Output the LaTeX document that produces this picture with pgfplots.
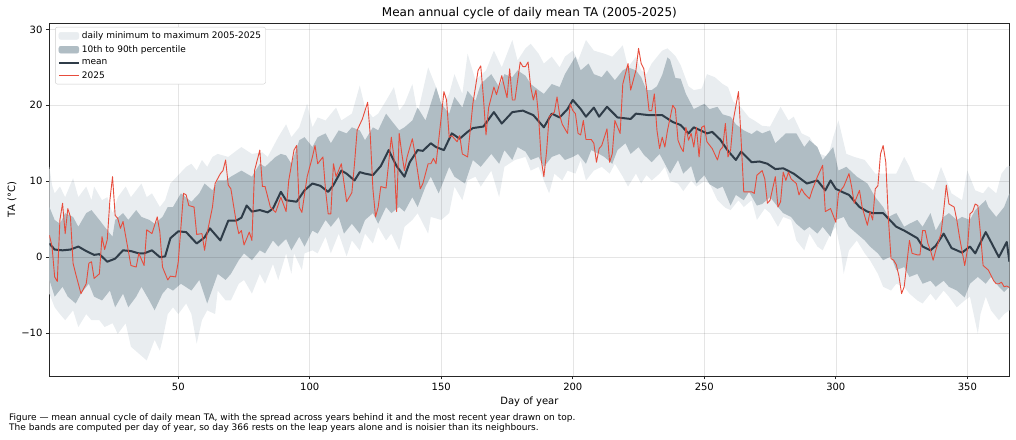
\documentclass[border=0pt]{standalone}
\usepackage{fontspec}
\setmainfont{DejaVu Sans}
\usepackage{pgfplots}
\pgfplotsset{compat=1.18}
\usepgfplotslibrary{fillbetween}
\usetikzlibrary{calc}
\definecolor{bandlight}{RGB}{233,237,240}
\definecolor{banddark}{RGB}{176,189,196}
\definecolor{meanc}{RGB}{47,60,72}
\definecolor{redc}{RGB}{231,76,60}
\begin{document}
\begin{tikzpicture}
\begin{axis}[
  scale only axis, width=960pt, height=352.7pt,
  xmin=1, xmax=366, ymin=-15.65, ymax=30.8,
  xtick={50,100,150,200,250,300,350},
  xticklabels={50,100,150,200,250,300,350},
  ytick={-10,0,10,20,30},
  yticklabels={−10,0,10,20,30},
  tick align=outside, xtick pos=bottom, ytick pos=left,
  major tick length=3.5pt,
  tick style={black!85, line width=0.8pt},
  axis line style={black!85, line width=0.8pt},
  ticklabel style={font=\fontsize{10}{12}\selectfont},
  xlabel={Day of year}, ylabel={TA (°C)},
  xlabel style={at={(rel axis cs:0.5,-0.0737)}, anchor=center, font=\fontsize{10}{12}\selectfont},
  ylabel style={at={(rel axis cs:-0.039,0.5)}, anchor=center, font=\fontsize{10}{12}\selectfont},
  title={Mean annual cycle of daily mean TA (2005-2025)},
  every axis title shift=0pt,
  title style={at={(rel axis cs:0.5,1.029)}, anchor=center, font=\fontsize{12}{14}\selectfont},
  legend style={at={(rel axis cs:0.006,0.9895)}, anchor=north west,
    font=\fontsize{9}{11}\selectfont, draw=black!20, rounded corners=2pt,
    fill=white, inner sep=2.5pt, row sep=1.5pt},
  legend cell align=left,
  clip=true,
]
\addlegendimage{legend image code/.code={\fill[bandlight] (0pt,-3.5pt) rectangle (20pt,3.5pt);}}
\addlegendimage{legend image code/.code={\fill[banddark] (0pt,-3.5pt) rectangle (20pt,3.5pt);}}
\addlegendimage{legend image code/.code={\draw[meanc, line width=2pt] (0pt,0pt) -- (20pt,0pt);}}
\addlegendimage{legend image code/.code={\draw[redc, line width=0.9pt] (0pt,0pt) -- (20pt,0pt);}}
\legend{daily minimum to maximum 2005-2025, 10th to 90th percentile, mean, 2025}

% daily maximum
\addplot[name path=maxp, draw=none, forget plot] coordinates {
(1,11.9)(2,9.5)(3,8.4)(5,9.3)(7,7.9)(10,10.4)(12,7.9)(15,9.3)(17,7.5)(18,9.3)(21,7.5)(23,7.9)(25,5.8)(27,7.9)(30,9.3)(32,7.9)(36,9.7)(38,7.9)(40,8.4)(43,6.6)(45,7.5)(47,9.7)(50,10.8)(53,11.9)(55,12.3)(57,11.4)(59,12.8)(61,11.9)(63,13.2)(65,13.6)(69,13.2)(72,14.0)(74,14.5)(78,13.6)(82,13.8)(84,13.2)(88,15.8)(91,17.5)(93,15.8)(96,17.1)(99,20.2)(101,17.1)(103,18.4)(106,18.0)(110,19.7)(112,18.0)(116,18.9)(119,22.6)(121,19.7)(124,18.4)(126,18.9)(129,20.6)(132,22.4)(134,19.3)(136,20.2)(139,22.8)(141,18.9)(145,25.0)(148,22.4)(150,19.7)(153,21.5)(155,24.1)(158,21.5)(160,26.8)(163,23.3)(167,24.6)(170,27.2)(173,25.0)(177,28.6)(179,25.9)(182,27.5)(184,28.1)(187,26.8)(189,25.5)(192,26.4)(195,25.0)(197,26.4)(200,27.2)(202,25.9)(205,28.6)(208,27.2)(212,26.8)(215,26.4)(219,27.9)(221,25.0)(224,26.4)(226,24.6)(228,24.1)(230,25.5)(233,26.8)(234,27.2)(236,27.5)(239,26.5)(241,25.3)(244,22.5)(246,22.0)(249,22.2)(251,24.1)(254,23.7)(257,22.8)(259,22.4)(261,20.5)(264,19.7)(267,18.4)(269,18.0)(272,17.3)(275,17.2)(279,19.8)(282,18.0)(284,18.5)(287,16.3)(290,15.8)(294,13.6)(297,13.2)(299,15.8)(301,18.0)(304,13.6)(307,13.2)(311,12.8)(315,11.0)(320,11.0)(323,11.0)(326,13.2)(328,11.9)(330,10.1)(334,9.7)(337,8.8)(340,11.9)(344,8.4)(348,7.5)(350,11.4)(353,8.8)(356,8.4)(358,9.3)(361,8.4)(363,11.0)(365,11.9)(366,12.0)
};
% daily minimum
\addplot[name path=minp, draw=none, forget plot] coordinates {
(1,-4.8)(3,-6.6)(5,-7.5)(7,-8.3)(10,-7.0)(12,-9.2)(15,-7.5)(17,-8.3)(20,-8.3)(22,-9.2)(25,-8.7)(27,-10.1)(30,-8.7)(32,-11.8)(35,-12.7)(38,-13.6)(39,-12.7)(41,-10.9)(43,-12.3)(44,-10.9)(46,-7.5)(48,-6.6)(50,-7.5)(53,-6.1)(55,-7.5)(57,-11.4)(59,-8.3)(61,-7.0)(64,-7.5)(65,-4.4)(68,-5.7)(70,-5.7)(73,-3.5)(75,-3.0)(78,-4.8)(81,-2.2)(83,-3.5)(86,-0.9)(88,-3.0)(91,0.5)(93,-2.2)(94,0.5)(97,-1.7)(98,0.5)(101,0.9)(103,0.5)(106,2.7)(108,0.5)(111,3.1)(114,0.1)(116,2.2)(119,0.9)(121,3.1)(124,1.8)(126,4.0)(129,2.2)(131,3.1)(134,0.9)(136,4.0)(139,4.9)(141,5.8)(145,3.1)(146,5.3)(150,4.9)(153,5.8)(155,9.3)(158,7.5)(160,10.1)(163,10.6)(165,9.3)(169,11.4)(172,7.9)(174,11.9)(178,12.8)(182,13.2)(184,11.4)(187,11.9)(189,10.1)(191,8.4)(193,11.0)(196,10.1)(198,11.4)(201,11.0)(203,12.8)(205,10.1)(208,11.4)(211,11.9)(214,11.0)(216,12.3)(219,10.6)(221,9.3)(224,11.0)(226,9.7)(228,10.8)(230,10.1)(233,11.0)(235,11.9)(237,10.0)(240,9.7)(242,8.7)(245,10.1)(247,9.3)(250,10.0)(252,9.7)(255,7.5)(258,6.5)(260,6.2)(263,7.5)(265,6.6)(268,7.5)(270,4.9)(273,6.4)(275,5.8)(278,4.0)(280,5.3)(283,4.9)(285,2.2)(288,0.9)(290,3.1)(293,1.4)(295,0.9)(298,3.1)(300,4.0)(302,0.5)(303,-2.2)(305,0.9)(308,2.2)(311,0.5)(313,-0.4)(316,-2.2)(318,-3.9)(321,-4.4)(323,-3.5)(326,-3.9)(328,-4.8)(331,-5.7)(333,-6.1)(336,-4.8)(338,-5.7)(341,-4.4)(343,-5.2)(346,-6.6)(349,-5.7)(351,-5.2)(354,-10.1)(355,-7.5)(357,-5.2)(359,-7.0)(362,-8.3)(364,-7.5)(366,-7.0)
};
% 90th percentile
\addplot[name path=p90, draw=none, forget plot] coordinates {
(1,6.6)(3,4.9)(5,4.4)(7,5.8)(10,5.3)(12,4.0)(15,5.8)(17,6.2)(20,4.9)(22,4.0)(25,2.7)(26,4.9)(29,5.8)(31,4.9)(34,6.2)(36,5.3)(39,4.9)(41,4.4)(44,5.3)(46,6.6)(48,6.6)(51,8.4)(55,7.3)(58,8.4)(60,9.7)(63,8.8)(65,10.1)(68,10.1)(70,10.6)(74,11.4)(78,10.6)(81,12.3)(83,11.9)(87,13.2)(89,13.6)(91,13.4)(93,12.3)(96,15.4)(98,15.8)(101,14.5)(103,15.8)(106,16.3)(108,15.0)(111,16.7)(114,16.3)(116,17.1)(119,16.7)(121,15.4)(124,17.1)(126,16.7)(129,18.9)(131,18.0)(134,16.7)(136,17.1)(139,18.0)(141,19.7)(144,18.0)(148,22.4)(150,20.2)(153,18.9)(155,21.1)(158,19.7)(160,21.9)(163,20.6)(165,22.8)(169,24.1)(172,22.4)(174,24.1)(177,23.7)(179,24.6)(182,23.9)(184,22.8)(187,22.0)(189,21.5)(192,22.8)(195,22.4)(197,24.1)(201,26.4)(203,24.6)(206,25.5)(208,24.1)(211,23.7)(213,24.6)(216,23.3)(219,24.6)(221,25.0)(224,24.6)(226,23.7)(228,22.0)(230,22.0)(232,22.5)(234,24.0)(236,26.3)(237,26.0)(239,23.6)(241,23.5)(243,21.5)(246,19.5)(250,20.2)(252,19.5)(255,19.8)(257,18.8)(260,18.5)(262,17.5)(265,16.7)(268,16.2)(270,16.7)(272,16.3)(275,16.7)(277,15.0)(281,16.3)(285,16.3)(288,14.5)(290,15.4)(293,14.5)(295,12.8)(299,14.5)(301,11.4)(304,11.9)(308,10.6)(312,9.7)(315,7.9)(318,6.6)(320,5.3)(323,5.8)(326,4.0)(328,4.4)(331,4.9)(333,4.0)(336,5.8)(338,3.5)(341,5.3)(343,5.8)(346,4.9)(348,5.3)(351,4.9)(353,6.2)(357,7.5)(358,6.6)(361,5.3)(364,6.6)(366,8.4)
};
% 10th percentile
\addplot[name path=p10, draw=none, forget plot] coordinates {
(1,-3.0)(3,-5.2)(6,-3.9)(8,-5.2)(11,-6.1)(13,-4.8)(16,-3.5)(18,-5.2)(21,-5.7)(24,-4.4)(26,-6.6)(29,-4.8)(31,-6.6)(34,-5.2)(36,-3.9)(39,-5.7)(41,-7.0)(44,-4.8)(46,-4.0)(48,-4.4)(51,-3.5)(55,-4.4)(58,-3.0)(61,-6.1)(65,-2.2)(68,-3.0)(70,-2.2)(73,-0.4)(75,0.5)(78,-0.4)(81,0.9)(83,0.5)(86,2.2)(88,1.4)(91,2.4)(93,0.9)(96,2.7)(98,1.4)(101,3.5)(103,3.1)(106,4.9)(108,4.0)(111,5.3)(113,3.1)(116,4.4)(119,3.1)(121,4.9)(124,5.8)(126,4.4)(129,6.6)(131,5.8)(134,6.6)(136,6.0)(139,7.9)(141,6.6)(144,9.3)(146,10.6)(149,8.4)(153,11.9)(155,10.6)(159,9.7)(162,12.8)(165,11.9)(169,13.6)(172,12.3)(174,14.1)(177,12.8)(179,14.5)(182,13.9)(184,12.8)(187,13.2)(189,11.9)(192,13.2)(195,13.6)(197,12.8)(200,13.2)(202,13.6)(205,12.3)(207,14.1)(210,13.6)(212,13.2)(215,12.3)(217,14.1)(220,15.0)(222,13.6)(225,14.5)(227,13.5)(230,12.5)(233,13.6)(235,12.3)(237,11.0)(240,12.8)(242,11.0)(245,12.0)(247,9.7)(250,10.8)(252,9.6)(255,9.0)(257,9.3)(260,6.8)(262,8.2)(265,7.5)(267,8.6)(270,6.8)(272,7.0)(275,7.9)(278,6.6)(280,5.8)(283,5.3)(285,4.4)(288,3.5)(290,4.0)(293,3.1)(295,4.0)(298,2.7)(300,4.9)(303,5.3)(305,4.0)(308,3.1)(311,2.2)(313,1.4)(316,0.5)(318,-0.4)(321,0.1)(323,-1.7)(326,-1.3)(328,-2.6)(331,-2.2)(333,-3.5)(336,-3.1)(338,-3.9)(341,-3.1)(343,-3.9)(346,-4.4)(349,-5.3)(351,-3.5)(354,-2.6)(357,-3.5)(359,-2.6)(362,-3.9)(364,-4.6)(366,-3.9)
};
\addplot[bandlight, draw=none, forget plot] fill between[of=maxp and minp];
\addplot[banddark, draw=none, forget plot] fill between[of=p90 and p10];

% grid over the bands, under the lines
\draw[black, opacity=0.1, line width=0.6pt] (axis cs:50,-15.65) -- (axis cs:50,30.8);
\draw[black, opacity=0.1, line width=0.6pt] (axis cs:100,-15.65) -- (axis cs:100,30.8);
\draw[black, opacity=0.1, line width=0.6pt] (axis cs:150,-15.65) -- (axis cs:150,30.8);
\draw[black, opacity=0.1, line width=0.6pt] (axis cs:200,-15.65) -- (axis cs:200,30.8);
\draw[black, opacity=0.1, line width=0.6pt] (axis cs:250,-15.65) -- (axis cs:250,30.8);
\draw[black, opacity=0.1, line width=0.6pt] (axis cs:300,-15.65) -- (axis cs:300,30.8);
\draw[black, opacity=0.1, line width=0.6pt] (axis cs:350,-15.65) -- (axis cs:350,30.8);
\draw[black, opacity=0.1, line width=0.6pt] (axis cs:1,-10) -- (axis cs:366,-10);
\draw[black, opacity=0.1, line width=0.6pt] (axis cs:1,0) -- (axis cs:366,0);
\draw[black, opacity=0.1, line width=0.6pt] (axis cs:1,10) -- (axis cs:366,10);
\draw[black, opacity=0.1, line width=0.6pt] (axis cs:1,20) -- (axis cs:366,20);
\draw[black, opacity=0.1, line width=0.6pt] (axis cs:1,30) -- (axis cs:366,30);

% mean
\addplot[meanc, line width=2pt, forget plot, line join=round] coordinates {
(1,1.8)(3,1.0)(6,0.9)(9,1.0)(12,1.4)(15,0.8)(18,0.3)(20,0.4)(23,-0.6)(26,-0.2)(29,0.9)(32,0.8)(35,0.5)(37,0.5)(40,0.9)(43,0.0)(45,0.1)(47,2.5)(50,3.4)(53,3.3)(57,1.8)(60,2.6)(62,3.8)(64,3.0)(66,2.2)(69,4.8)(72,4.8)(74,5.2)(76,6.8)(78,6.0)(81,6.2)(84,5.9)(86,6.4)(89,8.6)(91,7.5)(95,7.3)(98,8.8)(101,9.7)(104,9.4)(107,8.6)(109,9.5)(112,11.4)(114,11.0)(117,10.1)(119,11.2)(121,11.0)(124,10.8)(127,12.0)(130,14.1)(133,12.0)(136,10.6)(138,12.5)(141,14.1)(143,14.0)(146,15.0)(148,14.5)(151,14.1)(154,16.3)(157,15.6)(160,16.5)(162,17.0)(166,17.2)(170,19.1)(173,17.6)(177,19.1)(181,19.3)(185,18.7)(189,17.1)(192,18.9)(195,18.4)(198,19.5)(200,20.7)(203,19.5)(205,18.5)(208,19.7)(210,18.5)(213,19.8)(217,18.4)(222,18.2)(224,18.9)(229,18.7)(234,18.7)(238,17.8)(241,17.4)(244,16.3)(246,17.1)(251,16.3)(253,16.5)(256,15.5)(259,14.0)(262,12.8)(264,13.9)(268,12.5)(271,12.6)(274,12.3)(277,11.6)(280,11.7)(284,11.0)(289,9.7)(293,10.1)(296,8.8)(298,10.1)(300,9.0)(303,8.5)(305,8.2)(309,6.6)(312,6.0)(314,5.8)(318,5.8)(323,4.0)(326,3.5)(328,3.1)(331,2.5)(333,1.4)(336,0.9)(338,1.5)(341,3.1)(344,1.2)(348,0.6)(351,1.4)(353,0.5)(357,3.3)(359,2.0)(362,0.0)(365,2.0)(366,-0.6)
};
% 2025
\addplot[redc, line width=0.9pt, forget plot, line join=round] coordinates {
(1,2.9)(2,1.4)(3,-2.6)(4,-3.2)(5,4.9)(6,7.1)(7,3.1)(8,6.4)(9,5.3)(10,-0.8)(11,-2.2)(13,-4.8)(15,-3.5)(16,-0.8)(17,-0.6)(18,-2.8)(20,-2.2)(21,2.7)(22,1.0)(23,2.3)(24,7.5)(25,10.6)(26,5.5)(27,5.1)(28,3.8)(29,4.7)(32,-1.1)(34,-1.3)(35,0.5)(37,-1.1)(38,3.6)(40,3.1)(42,5.3)(43,3.3)(44,-1.3)(46,-3.0)(47,-2.5)(49,-2.6)(50,-0.6)(52,8.4)(53,8.2)(54,6.8)(56,6.6)(57,3.0)(59,3.1)(60,0.9)(61,3.2)(63,6.6)(64,9.7)(66,11.0)(67,11.4)(68,12.8)(69,9.5)(70,9.0)(72,4.7)(73,3.1)(74,3.5)(75,1.6)(77,3.3)(78,2.2)(79,11.4)(81,14.1)(82,9.3)(83,9.3)(85,6.6)(87,5.9)(89,7.9)(91,6.0)(92,10.1)(94,14.1)(95,14.7)(96,6.6)(97,5.9)(99,10.6)(101,13.2)(102,14.7)(103,12.3)(105,13.2)(106,8.8)(107,5.7)(108,5.7)(109,12.3)(110,10.6)(112,12.3)(114,7.3)(116,8.5)(117,12.3)(118,16.7)(120,18.2)(122,20.4)(123,16.0)(124,9.0)(125,5.3)(126,6.6)(127,9.3)(129,9.1)(131,15.8)(132,13.2)(133,6.0)(134,16.3)(135,13.6)(136,11.4)(137,13.2)(139,15.6)(140,13.6)(142,9.0)(143,9.7)(145,12.3)(146,12.3)(147,13.0)(148,12.3)(150,18.5)(151,21.8)(152,20.7)(153,15.8)(154,16.0)(156,15.2)(157,16.0)(158,13.6)(160,13.2)(161,16.7)(162,20.2)(164,24.6)(165,25.2)(166,21.1)(167,16.1)(168,19.7)(170,22.4)(171,21.4)(173,23.9)(174,22.4)(175,21.0)(176,24.8)(177,20.7)(178,20.7)(180,25.7)(181,25.1)(182,25.1)(183,25.7)(184,22.4)(185,20.7)(186,22.0)(187,18.5)(188,12.8)(189,10.6)(190,13.8)(191,18.5)(193,19.1)(194,21.1)(195,18.7)(196,17.5)(198,16.3)(199,20.2)(200,19.3)(201,18.9)(202,16.3)(203,16.1)(204,18.0)(205,15.5)(207,15.5)(208,15.0)(209,12.5)(210,14.3)(211,14.7)(213,16.9)(214,12.5)(215,13.6)(216,18.0)(218,16.3)(219,22.8)(221,25.5)(222,22.0)(224,24.6)(225,27.5)(226,25.5)(227,24.8)(228,22.4)(229,19.3)(230,19.3)(231,21.5)(232,16.7)(233,14.3)(234,15.8)(235,14.5)(236,16.7)(238,20.0)(239,19.5)(240,15.4)(241,14.5)(242,13.9)(243,17.1)(244,15.4)(245,16.3)(246,14.5)(247,17.1)(248,13.2)(249,17.1)(250,17.3)(251,15.2)(253,14.3)(255,12.8)(256,14.1)(257,14.5)(258,17.6)(259,13.2)(260,14.1)(261,18.0)(263,21.8)(264,15.4)(265,8.6)(267,8.6)(268,8.6)(269,8.4)(270,10.8)(272,11.4)(273,10.3)(274,7.1)(275,7.5)(277,10.6)(278,6.6)(279,7.3)(280,11.2)(281,10.1)(282,11.2)(283,10.3)(285,9.7)(286,8.2)(287,9.0)(288,8.4)(290,7.7)(291,8.8)(293,10.6)(295,12.1)(296,6.0)(298,6.4)(300,4.6)(301,8.4)(303,9.3)(305,11.0)(306,9.3)(307,7.1)(309,8.8)(310,6.6)(312,4.2)(313,6.0)(314,4.9)(315,9.0)(316,9.4)(317,13.6)(318,14.7)(319,12.5)(320,5.0)(321,-0.2)(322,-0.4)(323,-1.0)(324,-2.5)(325,-4.8)(326,-3.9)(328,2.2)(329,0.5)(331,0.3)(332,0.3)(333,3.5)(334,3.5)(335,1.8)(336,0.9)(337,-0.4)(338,0.9)(340,3.1)(341,6.1)(342,9.5)(343,7.0)(344,6.8)(345,6.6)(346,4.9)(347,2.7)(349,-1.1)(350,0.9)(351,5.7)(352,6.0)(353,7.0)(354,6.8)(355,3.1)(356,-1.1)(358,-1.7)(359,-2.4)(360,-3.1)(361,-3.5)(362,-3.5)(363,-3.3)(364,-3.9)(365,-3.8)(366,-4.0)
};
\coordinate (ll) at (rel axis cs:0,0);
\coordinate (ur) at (rel axis cs:1,1);
\end{axis}
\node[anchor=north west, align=left, inner sep=0pt, font=\fontsize{9}{10.5}\selectfont]
  at ($(ll)+(-40.4pt,-37pt)$)
  {Figure — mean annual cycle of daily mean TA, with the spread across years behind it and the most recent year drawn on top.\\
   The bands are computed per day of year, so day 366 rests on the leap years alone and is noisier than its neighbours.};
\pgfresetboundingbox
\path[use as bounding box] ($(ll)+(-49.4pt,-64pt)$) rectangle ($(ur)+(6.6pt,23.3pt)$);
\end{tikzpicture}
\end{document}
